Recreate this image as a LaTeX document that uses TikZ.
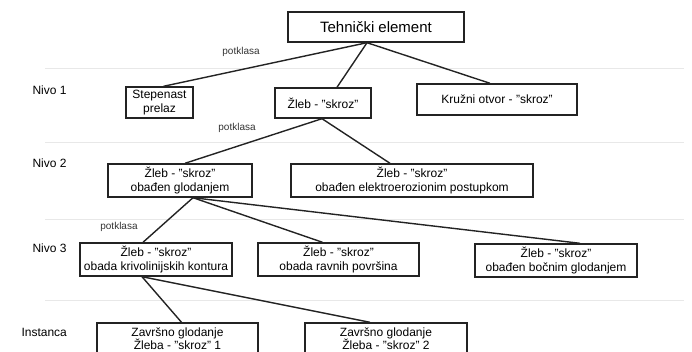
\documentclass[tikz,border=0pt]{standalone}
\usepackage{fontspec}
\setmainfont{Liberation Sans}
\usepackage{tikz}
\usetikzlibrary{positioning, calc}
\definecolor{boxline}{RGB}{35,35,35}
\definecolor{levelgray}{RGB}{232,232,232}

\begin{document}
\begin{tikzpicture}[
        x=1pt, y=-1pt,
        box/.style={rectangle, draw=boxline, line width=1.4pt, fill=white, inner sep=1pt,
                    minimum height=33pt, align=center, font=\fontsize{12}{14.5}\selectfont},
        titlebox/.style={box, minimum width=176pt, minimum height=30pt, font=\fontsize{15}{18}\selectfont},
        level/.style={anchor=west, font=\fontsize{12}{14}\selectfont},
        sublabel/.style={font=\fontsize{10}{12}\selectfont, text=black!80},
        link/.style={draw=boxline, line width=1.4pt},
        sepline/.style={draw=levelgray, line width=0.8pt}
    ]
        \path [use as bounding box, clip] (0,0) rectangle (692,352);
        % level separators
        \foreach \ly in {68,142,219,300}
            \path [sepline] (45,\ly) -- (684,\ly);
        \node [level] (lv1) at (29,90)  {Nivo 1};
        \node [level] (lv2) at (29,163) {Nivo 2};
        \node [level] (lv3) at (29,248) {Nivo 3};
        \node [level] (lv4) at (18,332) {Instanca};
        \node [titlebox] (tech) at (376,27) {Tehnički element};
        \node [box, minimum width=67pt, minimum height=31pt]  (step)    at (159.5,102.5) {Stepenast\\prelaz};
        \node [box, minimum width=96pt, minimum height=30pt]  (zleb)    at (323,103)     {Žleb - "skroz"};
        \node [box, minimum width=160pt, minimum height=31pt] (kruzni)  at (497,99.5)    {Kružni otvor - "skroz"};
        \node [box, minimum width=144pt] (glod)    at (180,180.5) {Žleb - "skroz"\\obađen glodanjem};
        \node [box, minimum width=242pt] (elektro) at (412,180.5) {Žleb - "skroz"\\obađen elektroerozionim postupkom};
        \node [box, minimum width=152pt] (kriv)    at (156,259.5) {Žleb - "skroz"\\obada krivolinijskih kontura};
        \node [box, minimum width=161pt] (ravni)   at (338.5,259.5) {Žleb - "skroz"\\obada ravnih površina};
        \node [box, minimum width=162pt] (bocni)   at (556,260.5) {Žleb - "skroz"\\obađen bočnim glodanjem};
        \node [box, minimum width=161pt, minimum height=31pt, font=\fontsize{12}{13}\selectfont] (inst1) at (177.5,338.5) {Završno glodanje\\Žleba - "skroz" 1};
        \node [box, minimum width=162pt, minimum height=31pt, font=\fontsize{12}{13}\selectfont] (inst2) at (386,338.5)   {Završno glodanje\\Žleba - "skroz" 2};
        \node [sublabel] (pk1) at (241,52)  {potklasa};
        \node [sublabel] (pk2) at (237,128) {potklasa};
        \node [sublabel] (pk3) at (119,227) {potklasa};
        \coordinate (techfoot) at ($(tech.south)+(-9,0)$);
        \coordinate (zlebfoot) at ($(zleb.south)+(-1,0)$);
        \coordinate (glodfoot) at ($(glod.south)+(13,0)$);
        \coordinate (krivfoot) at ($(kriv.south)+(-14,0)$);
        \path [link] (techfoot) -- ($(step.north)+(4,0)$);
        \path [link] (techfoot) -- ($(zleb.north)+(14,0)$);
        \path [link] (techfoot) -- ($(kruzni.north)+(-7,0)$);
        \path [link] (zlebfoot) -- ($(glod.north)+(5,0)$);
        \path [link] (zlebfoot) -- ($(elektro.north)+(-22,0)$);
        \path [link] (glodfoot) -- ($(kriv.north)+(-13,0)$);
        \path [link] (glodfoot) -- ($(ravni.north)+(-16,0)$);
        \path [link] (glodfoot) -- ($(bocni.north)+(24,0)$);
        \path [link] (krivfoot) -- ($(inst1.north)+(4,0)$);
        \path [link] (krivfoot) -- ($(inst2.north)+(-16,0)$);
    \end{tikzpicture}
\end{document}
